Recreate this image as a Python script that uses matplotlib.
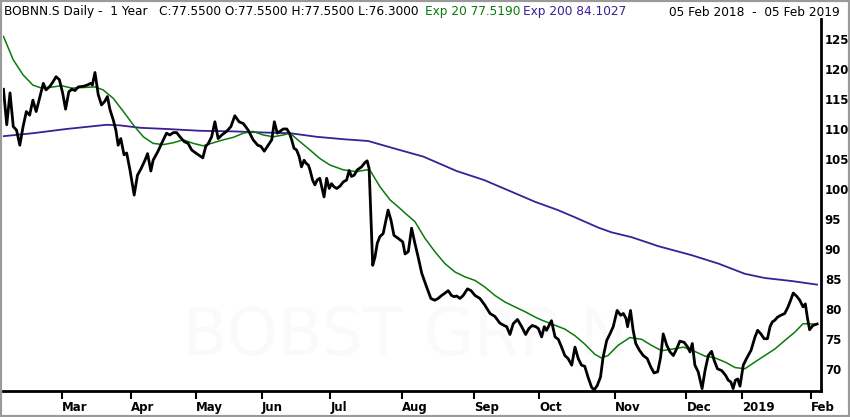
import numpy as np
import pandas as pd
import matplotlib
matplotlib.use("Agg")
import matplotlib.pyplot as plt
from matplotlib.patches import Rectangle

# trading calendar (SIX) for the one-year window
start_date = "2018-02-05"
end_date = "2019-02-05"
holidays = ["2018-03-30", "2018-04-02", "2018-05-01", "2018-05-10", "2018-05-21",
            "2018-08-01", "2018-12-24", "2018-12-25", "2018-12-26", "2018-12-31",
            "2019-01-01", "2019-01-02"]

# daily close (x = trading session number since 05 Feb 2018)
close_day = [0, 1, 2, 3, 4, 5, 6, 7, 8, 9, 10, 11.4, 12.2, 13, 14.2, 15.1, 16.1, 17.1, 18.1, 19,
             20, 20.9, 21.9, 22.9, 24.4, 25.6, 26.7, 27.2, 28, 29, 30, 31, 31.8, 32.6, 33.6, 34.4,
             35.1, 35.9, 36.9, 37.7, 38.7, 40, 41, 42.1, 43.3, 44.1, 45.1, 45.8, 47.2, 48.4, 49.9,
             50.9, 52, 53, 54, 55.3, 56.5, 57.6, 59.1, 61, 61.9, 62.7, 63.7, 64.7, 65.7, 66.8,
             68.3, 69.6, 70.8, 72.1, 73.4, 74.9, 76.4, 77.8, 78.8, 79.8, 81, 82.1, 82.9, 83.8,
             84.6, 85.6, 86.7, 87.5, 88.2, 88.9, 89.7, 90.5, 91.2, 92, 92.6, 93.3, 93.8, 94.6,
             95.3, 96, 96.8, 97.4, 98.1, 98.9, 99.7, 100.4, 101.1, 102, 103, 104, 105, 105.8,
             106.5, 107.3, 108.3, 109.6, 110.6, 111.3, 111.9, 113, 113.7, 114.4, 115.2, 116.2,
             117.3, 117.7, 118.6, 119.5, 120.8, 122.2, 122.9, 123.9, 124.9, 125.9, 126.9, 128,
             129.5, 130.8, 132, 133, 134.1, 134.9, 136.1, 137.1, 137.9, 138.7, 139.7, 140.7, 142,
             143.1, 144.3, 145.8, 147.3, 148.9, 150.4, 151.9, 153.2, 154, 155, 156, 157.3, 158.6,
             159.8, 160.8, 161.8, 162.9, 163.7, 164.7, 165.5, 166.2, 167.7, 168.8, 169.8, 170.8,
             171.8, 172.8, 173.9, 174.9, 175.9, 176.9, 177.9, 178.9, 180, 180.8, 181.7, 182.7,
             183.5, 184.6, 185.6, 186.6, 187.8, 188.9, 189.7, 190.5, 191, 191.9, 192.7, 193.5,
             194.6, 195.8, 197, 198.1, 199.1, 200.2, 201.1, 201.9, 203, 204, 205, 206, 207,
             208.3, 209.4, 210.1, 210.8, 211.6, 212.6, 213.8, 214.7, 215.7, 216.7, 217.5, 218.5,
             219.8, 221, 221.8, 222.6, 223.3, 224, 224.7, 225.4, 226.4, 227.4, 228.8, 230, 230.8,
             231.8, 232.8, 233.8, 234.6, 235.3, 236.1, 236.9, 237.9, 239.1, 240.1, 240.9, 241.7,
             242.7, 243.7, 244.7, 245.4, 246, 246.7, 247.7, 249]
close_val = [116.6, 110.7, 116.0, 110.4, 109.8, 107.3, 110.4, 112.9, 112.3, 114.8, 112.9, 115.9,
             117.6, 116.5, 117.1, 117.8, 118.7, 118.2, 116.0, 113.3, 116.2, 116.6, 116.4, 117.0,
             117.1, 117.3, 117.6, 117.3, 119.4, 115.7, 114.0, 114.6, 115.4, 113.2, 111.5, 109.8,
             107.3, 108.4, 105.7, 106.0, 103.2, 99.0, 102.3, 103.4, 104.8, 105.9, 103.0, 104.8,
             106.2, 107.6, 109.3, 109.0, 109.4, 109.4, 108.7, 107.9, 107.6, 106.5, 105.9, 105.2,
             107.1, 107.6, 108.7, 111.2, 108.4, 109.0, 109.6, 110.4, 112.2, 111.2, 110.9, 109.8,
             108.2, 107.3, 107.1, 106.3, 107.3, 108.2, 111.2, 109.3, 109.6, 110.0, 110.0, 109.3,
             108.2, 106.8, 106.5, 105.4, 103.7, 104.8, 104.3, 104.0, 103.2, 101.5, 100.7, 101.5,
             101.8, 100.4, 98.7, 101.8, 100.1, 100.9, 100.4, 100.1, 100.5, 101.2, 101.5, 103.1,
             102.1, 102.3, 103.2, 103.7, 104.4, 104.7, 103.4, 87.3, 88.7, 91.0, 92.1, 92.6,
             95.4, 96.5, 94.8, 92.3, 91.8, 91.2, 89.2, 89.6, 93.5, 91.0, 88.7, 86.0,
             83.7, 81.8, 81.5, 81.8, 82.3, 82.6, 83.1, 82.3, 82.1, 82.2, 81.8, 82.3, 83.4,
             83.1, 82.3, 81.8, 80.7, 79.3, 78.8, 77.7, 77.3, 77.1, 75.8, 77.6, 78.3, 77.1,
             75.8, 76.8, 77.3, 77.1, 76.8, 75.4, 77.1, 76.5, 78.1, 75.4, 75.0, 73.7,
             72.3, 71.8, 70.7, 73.7, 71.8, 70.7, 70.5, 68.7, 67.0, 66.6, 67.3, 68.7,
             72.0, 74.8, 75.9, 77.1, 79.8, 79.0, 79.3, 78.5, 77.1, 79.8, 76.5, 74.3,
             73.2, 72.3, 71.8, 70.4, 69.4, 69.6, 72.0, 75.9, 74.0, 72.9, 72.3, 73.4, 74.7,
             74.5, 73.7, 72.9, 74.3, 70.7, 69.6, 66.8, 69.8, 72.3, 73.0, 71.5, 70.1,
             69.8, 69.0, 68.2, 67.9, 66.8, 68.2, 68.4, 67.2, 70.7, 71.8, 73.2, 75.4, 76.5,
             75.9, 75.1, 75.1, 77.1, 77.9, 78.2, 78.7, 79.0, 79.3, 80.4, 81.5, 82.7,
             82.2, 81.5, 80.4, 80.9, 78.7, 76.6, 77.3, 77.55]

# Exp 20 (green)
ema20_day = [0, 3, 6, 9, 11.7, 15.2, 17.8, 20.9, 24.4, 28, 30.5, 33.6, 36.7, 39.7, 42.8, 45.8,
             48.9, 51.9, 55, 58.1, 61.1, 64.2, 67.3, 70.3, 73.4, 76.4, 79.5, 82.6, 85.6, 87.7,
             90.7, 93.8, 96.8, 99.9, 104, 108, 111.1, 112.2, 115.2, 118.3, 121.3, 122.9, 125.9,
             129, 132, 135.1, 138.2, 141.2, 144.3, 147.3, 150.4, 153.5, 156.5, 159.6, 162.7,
             164.7, 171.8, 174.9, 177.9, 181, 183, 185, 188.1, 191.7, 195.3, 198.3, 201.4,
             205, 208.1, 211.1, 214.7, 217.8, 220.9, 223.9, 226.9, 229.9, 233, 236.1, 239.1,
             242.2, 244.7, 249]
ema20_val = [125.4, 121.5, 119.0, 117.3, 116.8, 117.0, 117.2, 116.8, 116.9, 117.0, 116.5, 115.1,
             112.9, 110.7, 108.7, 107.6, 107.4, 107.7, 108.2, 107.6, 107.2, 107.7, 108.2, 108.6,
             109.3, 109.6, 109.0, 108.7, 109.0, 109.3, 107.9, 106.5, 105.1, 104.0, 103.2, 102.9,
             103.2, 103.1, 100.4, 98.2, 96.8, 96.0, 94.6, 91.8, 89.6, 87.6, 86.2, 85.4, 84.8,
             83.7, 82.3, 81.2, 80.4, 79.6, 78.7, 78.2, 76.7, 75.6, 74.2, 72.5, 71.9, 72.3,
             74.0, 75.3, 75.0, 74.0, 73.1, 73.4, 73.7, 73.1, 72.2, 71.9, 71.2, 70.3, 70.1,
             71.2, 72.3, 73.4, 74.8, 76.2, 77.6, 77.52]

# Exp 200 (purple)
ema200_day = [0, 9.1, 19.3, 31.6, 35.6, 41.8, 49.9, 60.1, 70.3, 80.5, 87.7, 95.8, 104, 111.6,
              119.3, 128.5, 138.7, 147.1, 155.3, 162.6, 169.7, 174.9, 182, 186.1, 192.2, 200.4,
              210.6, 218.8, 226.9, 233, 241.2, 249]
ema200_val = [108.8, 109.3, 110.0, 110.7, 110.6, 110.2, 110.0, 109.7, 109.6, 109.4, 109.3, 108.7,
              108.3, 108.0, 106.8, 105.4, 103.0, 101.5, 99.6, 97.9, 96.5, 95.3, 93.6, 92.8,
              92.0, 90.5, 89.0, 87.6, 85.9, 85.2, 84.7, 84.1]

y_ticks = [70, 75, 80, 85, 90, 95, 100, 105, 110, 115, 120, 125]

header = "BOBNN.S Daily -  1 Year   C:77.5500 O:77.5500 H:77.5500 L:76.3000"
ema20_label = "Exp 20 77.5190"
ema200_label = "Exp 200 84.1027"
range_label = "05 Feb 2018  -  05 Feb 2019"
watermark = "BOBST GRP N"

sessions = pd.bdate_range(start_date, end_date)
sessions = sessions[~sessions.isin(pd.to_datetime(holidays))]
month_pos = []
month_lab = []
for i in range(1, len(sessions)):
    if sessions[i].month != sessions[i - 1].month:
        month_pos.append(i)
        month_lab.append(str(sessions[i].year) if sessions[i].month == 1 else sessions[i].strftime("%b"))

green = "#0b7a0b"
purple = "#3b1f96"

fig = plt.figure(figsize=(8.5, 4.17), dpi=100)
ax = fig.add_axes([2.5 / 850, 26 / 417, (820.7 - 2.5) / 850, (398 - 26) / 417])

ax.plot(ema200_day, ema200_val, color=purple, lw=1.3, zorder=2)
ax.plot(ema20_day, ema20_val, color=green, lw=1.1, zorder=3)
ax.plot(close_day, close_val, color="black", lw=2, zorder=4)

ax.set_xlim(-0.3, 250.1)
ax.set_ylim(66.4, 128.3)

ax.spines["left"].set_visible(False)
ax.spines["top"].set_visible(False)
ax.spines["right"].set_linewidth(2)
ax.spines["bottom"].set_linewidth(2)

ax.yaxis.tick_right()
ax.set_yticks(y_ticks)
ax.set_yticklabels([str(v) for v in y_ticks])
ax.tick_params(axis="y", length=0, pad=3, labelsize=8.5)
ax.set_xticks(month_pos)
ax.set_xticklabels(month_lab, ha="left")
ax.tick_params(axis="x", length=6, width=1.5, pad=1, labelsize=8.5)
for lab in ax.get_xticklabels() + ax.get_yticklabels():
    lab.set_fontweight("bold")

# faint watermark behind the lines
ax.text(183 / 850, (417 - 355) / 417, watermark, transform=fig.transFigure, fontsize=47,
        color="#fafafa", ha="left", va="baseline", zorder=0)

fig.text(4 / 850, 1 - 12 / 417, header, fontsize=8.75, va="center", ha="left")
fig.text(425 / 850, 1 - 12 / 417, ema20_label, fontsize=8.75, va="center", ha="left", color=green)
fig.text(523 / 850, 1 - 12 / 417, ema200_label, fontsize=8.75, va="center", ha="left", color=purple)
fig.text(840 / 850, 1 - 12 / 417, range_label, fontsize=8.75, va="center", ha="right")

fig.patches.append(Rectangle((0, 0), 1, 1, transform=fig.transFigure, fill=False,
                             edgecolor="#9a9a9a", lw=3))

fig.savefig("out.png", dpi=100)
